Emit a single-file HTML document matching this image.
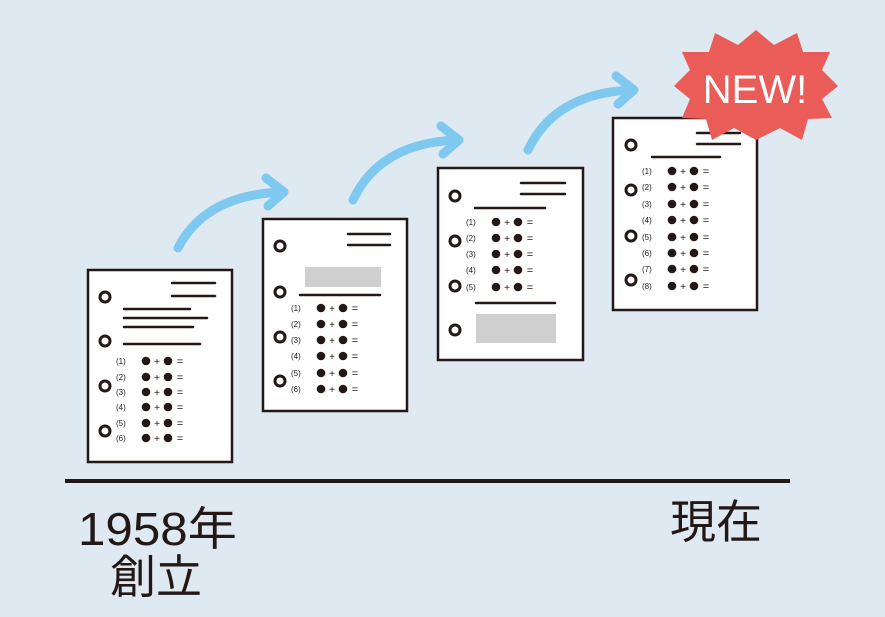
<!DOCTYPE html>
<html><head><meta charset="utf-8"><style>
html,body{margin:0;padding:0;background:#dfe9f1;}
svg{display:block}
.t{font-family:"Liberation Sans","Noto Sans CJK JP",sans-serif;}
</style></head><body>
<svg width="885" height="617" viewBox="0 0 885 617" xmlns="http://www.w3.org/2000/svg">
<rect width="885" height="617" fill="#dfe9f1"/>
<defs>
<g id="item">
<circle cx="23" cy="0" r="4.3" fill="#231815"/>
<text x="34" y="4" font-size="10" text-anchor="middle" fill="#231815" class="t">+</text>
<circle cx="45" cy="0" r="4.3" fill="#231815"/>
<text x="57" y="4" font-size="11" text-anchor="middle" fill="#231815" class="t">=</text>
</g>
</defs>
<g fill="none" stroke="#7fc8ef" stroke-width="9" stroke-linecap="round" stroke-linejoin="round">
<path d="M178 248 Q205 195 282 192"/><path d="M266 178 L284 192 L268 206"/>
<path d="M353 200 Q380 143 457 140"/><path d="M441 126 L459 140 L443 154"/>
<path d="M528 150 Q555 93 632 90"/><path d="M616 76 L634 90 L618 104"/>
</g>
<g stroke="#231815" stroke-width="2.5" fill="#fff">
<rect x="88" y="270" width="144" height="192"/>
<rect x="263" y="219" width="144" height="192"/>
<rect x="438" y="168" width="145" height="192"/>
<rect x="613" y="118" width="144" height="192"/>
</g>
<g fill="none" stroke="#231815" stroke-width="3">
<circle cx="105" cy="297" r="5"/><circle cx="105" cy="341" r="5"/><circle cx="105" cy="386" r="5"/><circle cx="105" cy="431" r="5"/>
<circle cx="280" cy="246" r="5"/><circle cx="280" cy="292" r="5"/><circle cx="280" cy="337" r="5"/><circle cx="280" cy="381" r="5"/>
<circle cx="455" cy="196" r="5"/><circle cx="455" cy="241" r="5"/><circle cx="455" cy="286" r="5"/><circle cx="455" cy="330" r="5"/>
<circle cx="631" cy="145" r="5"/><circle cx="631" cy="190" r="5"/><circle cx="631" cy="236" r="5"/><circle cx="631" cy="280" r="5"/>
</g>
<g stroke="#231815" stroke-width="2.5" stroke-linecap="round">
<line x1="172" y1="283" x2="215" y2="283"/><line x1="172" y1="296" x2="215" y2="296"/>
<line x1="124" y1="309" x2="190" y2="309"/><line x1="124" y1="318" x2="207" y2="318"/><line x1="124" y1="327" x2="193" y2="327"/><line x1="124" y1="344" x2="200" y2="344"/>
<line x1="348" y1="234" x2="390" y2="234"/><line x1="348" y1="245" x2="390" y2="245"/><line x1="300" y1="295" x2="380" y2="295"/>
<line x1="521" y1="183" x2="565" y2="183"/><line x1="521" y1="194" x2="565" y2="194"/><line x1="475" y1="208" x2="545" y2="208"/><line x1="476" y1="303" x2="555" y2="303"/>
<line x1="697" y1="133" x2="740" y2="133"/><line x1="697" y1="144" x2="740" y2="144"/><line x1="652" y1="157" x2="720" y2="157"/>
</g>
<rect x="305" y="267" width="76" height="20" fill="#cfcfcf"/>
<rect x="476" y="314" width="80" height="29" fill="#cfcfcf"/>
<g class="t" font-size="8" fill="#231815">
<text x="116" y="364">(1)</text><text x="116" y="380">(2)</text><text x="116" y="395">(3)</text><text x="116" y="410">(4)</text><text x="116" y="426">(5)</text><text x="116" y="441">(6)</text>
<text x="291" y="311">(1)</text><text x="291" y="327">(2)</text><text x="291" y="343">(3)</text><text x="291" y="359">(4)</text><text x="291" y="376">(5)</text><text x="291" y="392">(6)</text>
<text x="466" y="225">(1)</text><text x="466" y="241">(2)</text><text x="466" y="257">(3)</text><text x="466" y="273">(4)</text><text x="466" y="290">(5)</text>
<text x="642" y="174">(1)</text><text x="642" y="190">(2)</text><text x="642" y="207">(3)</text><text x="642" y="223">(4)</text><text x="642" y="240">(5)</text><text x="642" y="256">(6)</text><text x="642" y="272">(7)</text><text x="642" y="289">(8)</text>
</g>
<use href="#item" x="123" y="361"/><use href="#item" x="123" y="377"/><use href="#item" x="123" y="392"/><use href="#item" x="123" y="407"/><use href="#item" x="123" y="423"/><use href="#item" x="123" y="438"/>
<use href="#item" x="298" y="308"/><use href="#item" x="298" y="324"/><use href="#item" x="298" y="340"/><use href="#item" x="298" y="356"/><use href="#item" x="298" y="373"/><use href="#item" x="298" y="389"/>
<use href="#item" x="473" y="222"/><use href="#item" x="473" y="238"/><use href="#item" x="473" y="254"/><use href="#item" x="473" y="270"/><use href="#item" x="473" y="287"/>
<use href="#item" x="649" y="171"/><use href="#item" x="649" y="187"/><use href="#item" x="649" y="204"/><use href="#item" x="649" y="220"/><use href="#item" x="649" y="237"/><use href="#item" x="649" y="253"/><use href="#item" x="649" y="269"/><use href="#item" x="649" y="286"/>
<polygon fill="#e95c57" points="756,30 774,45 797,33 803,52 830,52 822,70 838,86 822,99 832,118 808,119 802,140 780,128 756,140 734,128 712,140 706,119 682,118 690,99 674,86 690,70 682,52 709,52 715,33 738,45"/>
<text x="755" y="103" font-size="40" fill="#fff" text-anchor="middle" class="t">NEW!</text>
<line x1="65" y1="481" x2="790" y2="481" stroke="#231815" stroke-width="4"/>
<g class="t" fill="#231815">
<text x="78" y="545" font-size="46" textLength="159" lengthAdjust="spacingAndGlyphs">1958年</text>
<text x="110" y="593" font-size="46">創立</text>
<text x="670" y="538" font-size="46">現在</text>
</g>
</svg>
</body></html>
